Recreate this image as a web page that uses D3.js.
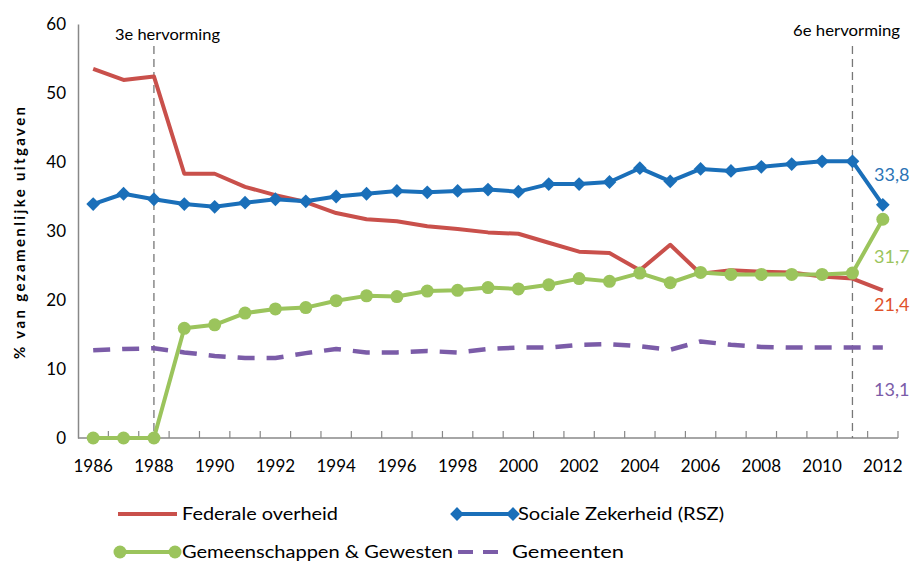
<!DOCTYPE html>
<html>
<head>
<meta charset="utf-8">
<script src="https://cdn.jsdelivr.net/npm/d3@7"></script>
<style>
  body { margin: 0; background: #fff; }
  svg { font-family: Lato, "Open Sans", sans-serif; }
</style>
</head>
<body>
<svg id="chart"></svg>
<script>
const years = d3.range(1986, 2013);
const yTicks = [0, 10, 20, 30, 40, 50, 60];
const federaal = [53.5, 51.9, 52.4, 38.3, 38.3, 36.4, 35.2, 34.2, 32.6, 31.7, 31.4, 30.7, 30.3, 29.8, 29.6,
                  28.3, 27.0, 26.8, 24.3, 28.0, 23.8, 24.3, 24.1, 24.0, 23.4, 23.1, 21.4];
const rsz = [33.9, 35.4, 34.6, 33.9, 33.5, 34.1, 34.6, 34.3, 35.0, 35.4, 35.8, 35.6, 35.8, 36.0, 35.7,
             36.8, 36.8, 37.1, 39.1, 37.2, 39.0, 38.7, 39.3, 39.7, 40.1, 40.1, 33.8];
const gemeenschappen = [0, 0, 0, 15.9, 16.4, 18.1, 18.7, 18.9, 19.9, 20.6, 20.5, 21.3, 21.4, 21.8, 21.6,
                        22.2, 23.1, 22.7, 23.9, 22.5, 24.0, 23.7, 23.7, 23.7, 23.7, 23.9, 31.7];
const gemeenten = [12.7, 12.9, 13.0, 12.4, 11.9, 11.6, 11.6, 12.3, 12.9, 12.4, 12.4, 12.6, 12.4, 12.9, 13.1,
                   13.1, 13.5, 13.6, 13.3, 12.8, 14.0, 13.5, 13.2, 13.1, 13.1, 13.1, 13.1];
const reforms = [{ year: 1988, label: "3e hervorming" }, { year: 2011, label: "6e hervorming" }];

const width = 916, height = 561;
const svg = d3.select("#chart").attr("width", width).attr("height", height);

const x = d3.scaleBand().domain(years).range([78, 898]).padding(0);
const cx = d => x(d) + x.bandwidth() / 2;
const y = d3.scaleLinear().domain([0, 60]).range([438, 24]);

const series = [
  { name: "Federale overheid", values: federaal, color: "#c9504b", label: "#e0522c", marker: null, dash: null },
  { name: "Sociale Zekerheid (RSZ)", values: rsz, color: "#1a6fb9", label: "#2c74b5", marker: "diamond", dash: null },
  { name: "Gemeenschappen & Gewesten", values: gemeenschappen, color: "#9bc45c", label: "#9bc45c", marker: "circle", dash: null },
  { name: "Gemeenten", values: gemeenten, color: "#7b5ca8", label: "#7b5ca8", marker: null, dash: "17,12" }
];

// y axis
const yAxis = svg.append("g").attr("transform", "translate(78,0)")
  .call(d3.axisLeft(y).tickValues(yTicks).tickSize(0).tickPadding(12));
yAxis.select(".domain").attr("stroke", "#888").attr("stroke-width", 1.5);
yAxis.selectAll("text").attr("font-size", 17).attr("fill", "#000").attr("font-family", "Lato, sans-serif");

// x axis
const xAxis = svg.append("g").attr("transform", "translate(0,438)");
xAxis.append("line").attr("x1", 78).attr("x2", 898).attr("stroke", "#888").attr("stroke-width", 1.5);
const bounds = years.map(d => x(d)).concat([x(years[years.length - 1]) + x.bandwidth()]);
xAxis.selectAll("line.tick").data(bounds.slice(1)).join("line")
  .attr("class", "tick").attr("x1", d => d).attr("x2", d => d).attr("y1", 0).attr("y2", -7)
  .attr("stroke", "#888").attr("stroke-width", 1.2);
xAxis.selectAll("text").data(years.filter(d => d % 2 === 0)).join("text")
  .attr("x", d => cx(d)).attr("y", 34).attr("text-anchor", "middle")
  .attr("font-size", 17).text(d => d);

// y title
svg.append("text")
  .attr("transform", "translate(25,233) rotate(-90)")
  .attr("text-anchor", "middle").attr("font-size", 15).attr("font-weight", "bold")
  .attr("textLength", 252).attr("lengthAdjust", "spacing")
  .text("% van gezamenlijke uitgaven");

// reform lines
reforms.forEach(r => {
  svg.append("line").attr("x1", cx(r.year)).attr("x2", cx(r.year))
    .attr("y1", y(60) + 22).attr("y2", y(0))
    .attr("stroke", "#777").attr("stroke-width", 1.3).attr("stroke-dasharray", "8,5");
});
svg.append("text").attr("x", 115).attr("y", 40).attr("font-size", 16)
  .attr("textLength", 105).attr("lengthAdjust", "spacingAndGlyphs").text(reforms[0].label);
svg.append("text").attr("x", 793).attr("y", 36).attr("font-size", 16)
  .attr("textLength", 107).attr("lengthAdjust", "spacingAndGlyphs").text(reforms[1].label);

const line = d3.line().x((d, i) => cx(years[i])).y(d => y(d));
const diamond = d3.symbol().type(d3.symbolSquare).size(95);

series.forEach(s => {
  svg.append("path").datum(s.values)
    .attr("d", line).attr("fill", "none")
    .attr("stroke", s.color).attr("stroke-width", s.dash ? 4.5 : 4)
    .attr("stroke-linejoin", "round")
    .attr("stroke-dasharray", s.dash);
  if (s.marker === "diamond") {
    svg.append("g").selectAll("path").data(s.values).join("path")
      .attr("d", diamond)
      .attr("transform", (d, i) => `translate(${cx(years[i])},${y(d)}) rotate(45)`)
      .attr("fill", s.color);
  }
  if (s.marker === "circle") {
    svg.append("g").selectAll("circle").data(s.values).join("circle")
      .attr("cx", (d, i) => cx(years[i])).attr("cy", d => y(d)).attr("r", 6.5)
      .attr("fill", s.color);
  }
});

// end value labels
const endLabels = [
  { s: series[1], dy: -24 },
  { s: series[2], dy: 44 },
  { s: series[0], dy: 21 },
  { s: series[3], dy: 48 }
];
endLabels.forEach(e => {
  const v = e.s.values[e.s.values.length - 1];
  svg.append("text").attr("x", 874).attr("y", y(v) + e.dy)
    .attr("font-size", 18).attr("fill", e.s.label)
    .text(d3.format(".1f")(v).replace(".", ","));
});

// legend
const legendItems = [
  { s: series[0], x1: 118, x2: 177, tx: 182, y: 514, tl: 156 },
  { s: series[1], x1: 457, x2: 513, tx: 518, y: 514, tl: 206 },
  { s: series[2], x1: 120, x2: 175, tx: 182, y: 552, tl: 271 },
  { s: series[3], x1: 458, x2: 500, tx: 512, y: 552, tl: 112 }
];
legendItems.forEach(l => {
  const g = svg.append("g");
  g.append("line").attr("x1", l.x1).attr("x2", l.x2).attr("y1", l.y).attr("y2", l.y)
    .attr("stroke", l.s.color).attr("stroke-width", 4)
    .attr("stroke-dasharray", l.s.dash ? "15,10" : null);
  if (l.s.marker === "diamond") {
    [l.x1, l.x2].forEach(px => g.append("path").attr("d", diamond)
      .attr("transform", `translate(${px},${l.y}) rotate(45)`).attr("fill", l.s.color));
  }
  if (l.s.marker === "circle") {
    [l.x1, l.x2].forEach(px => g.append("circle").attr("cx", px).attr("cy", l.y).attr("r", 6.5).attr("fill", l.s.color));
  }
  g.append("text").attr("x", l.tx).attr("y", l.y + 6).attr("font-size", 18)
    .attr("textLength", l.tl).attr("lengthAdjust", "spacingAndGlyphs").text(l.s.name);
});
</script>
</body>
</html>
